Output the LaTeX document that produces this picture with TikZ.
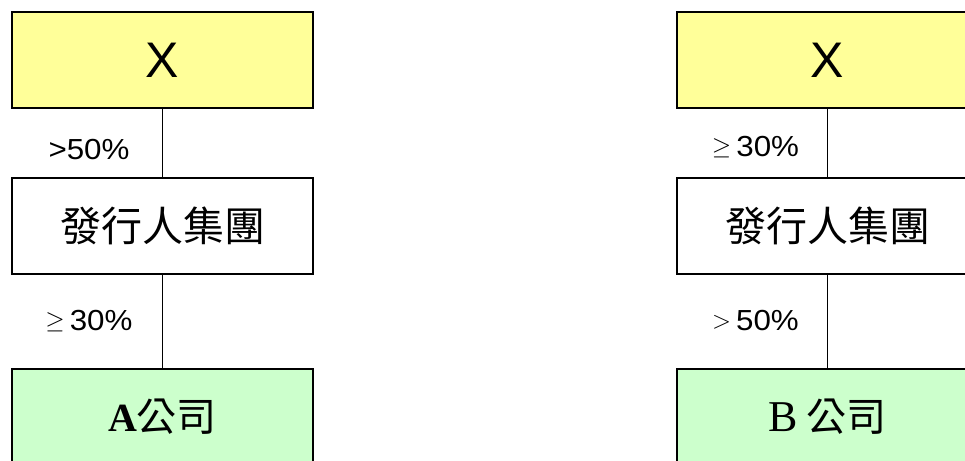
\documentclass[tikz,border=0pt]{standalone}
\usepackage{fontspec}
\setmainfont{Liberation Serif}
\newfontfamily\arialf{Liberation Sans}
\newfontfamily\cjkf{Noto Sans CJK TC}
\definecolor{boxyellow}{HTML}{FFFF99}
\definecolor{boxgreen}{HTML}{CCFFCC}
\tikzset{
  basebox/.style={draw=black, line width=1.8pt, minimum width=301pt, minimum height=96pt, inner sep=0pt, anchor=center},
  ybox/.style={basebox, fill=boxyellow, font=\arialf\fontsize{50}{50}\selectfont},
  wbox/.style={basebox, fill=white, font=\cjkf\fontsize{41}{41}\selectfont},
  gbox/.style={basebox, fill=boxgreen, font=\cjkf\fontsize{40}{40}\selectfont},
  conn/.style={draw=black, line width=1.6pt},
  pct/.style={inner sep=0pt, anchor=center, font=\arialf\fontsize{29}{29}\selectfont}
}
\newcommand{\stretchtxt}[1]{\scalebox{1.08}[1]{#1}}
\newcommand{\mathsym}[1]{\raisebox{2.5pt}{\fontsize{31}{31}\selectfont$#1$}}
\begin{document}
\begin{tikzpicture}[x=1pt,y=-1pt]
\useasboundingbox (0,0) rectangle (965,460);
\clip (0,0) rectangle (965,460);
% left column
\node[ybox] (xa) at (162.5,60) {X};
\node[wbox] (ma) at (162.5,226) {發行人集團};
\node[gbox] (ba) at (162.5,417) {{\fontspec{Liberation Serif}\bfseries A}公司};
\draw[conn] (xa.south) -- (ma.north);
\draw[conn] (ma.south) -- (ba.north);
\node[pct] (la1) at (89,150) {\stretchtxt{>50\%}};
\node[pct] (la2) at (89,321) {\mathsym{\geq}\hspace{5pt}\stretchtxt{30\%}};
% right column
\node[ybox] (xb) at (827.5,60) {X};
\node[wbox] (mb) at (827.5,226) {發行人集團};
\node[gbox] (bb) at (827.5,417) {{\fontspec{Liberation Serif}[Scale=1.1]B}\hspace{8pt}公司};
\draw[conn] (xb.south) -- (mb.north);
\draw[conn] (mb.south) -- (bb.north);
\node[pct] (lb1) at (755.5,147) {\mathsym{\geq}\hspace{5pt}\stretchtxt{30\%}};
\node[pct] (lb2) at (755.5,321) {\mathsym{>}\hspace{5pt}\stretchtxt{50\%}};
\end{tikzpicture}
\end{document}
